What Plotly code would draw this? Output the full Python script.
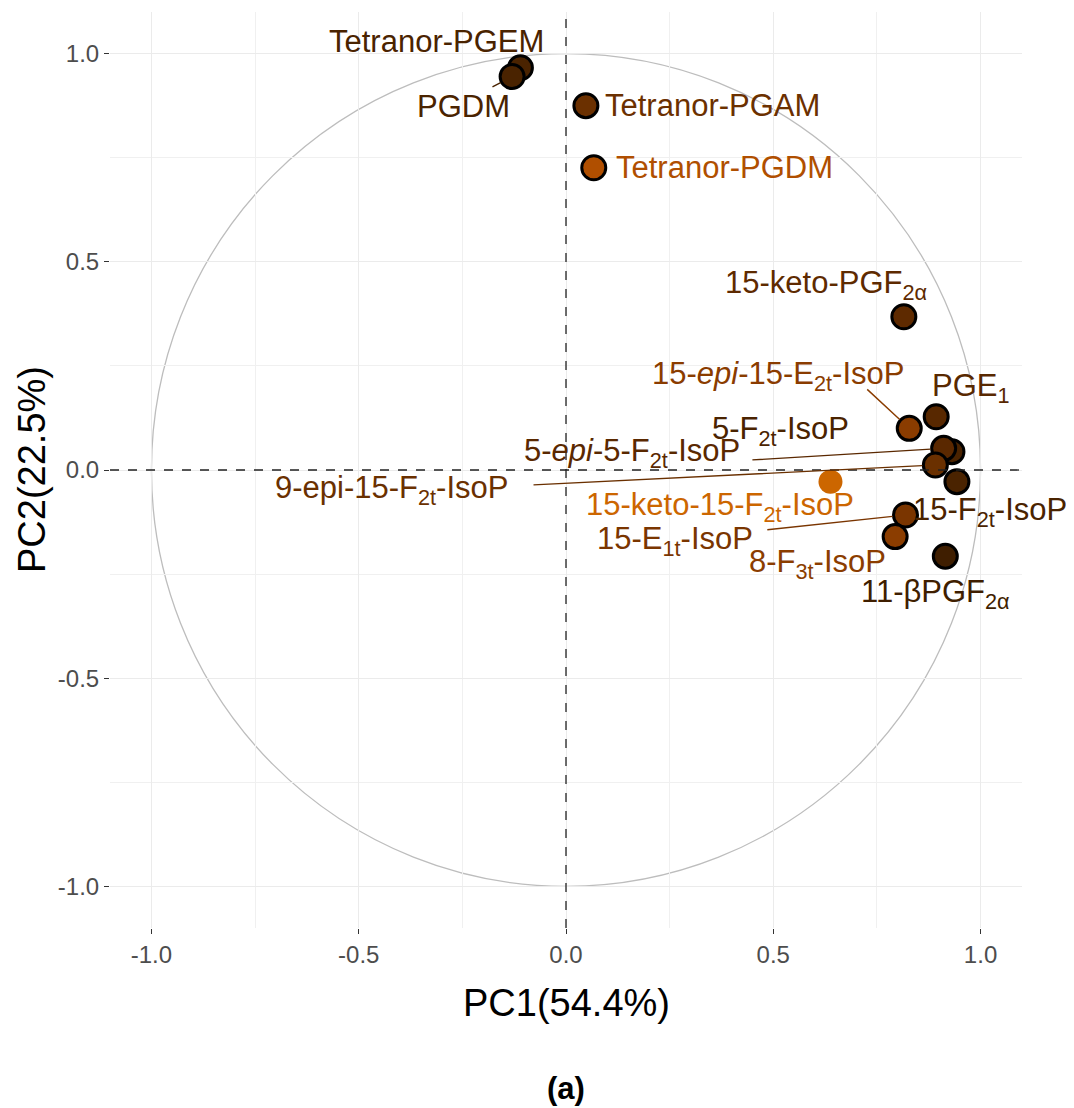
import plotly.graph_objects as go

# ---- data ----
names = ["Tetranor-PGEM", "PGDM", "Tetranor-PGAM", "Tetranor-PGDM",
         "15-keto-PGF<sub>2α</sub>", "PGE<sub>1</sub>",
         "15-<i>epi</i>-15-E<sub>2t</sub>-IsoP", "5-F<sub>2t</sub>-IsoP",
         "5-<i>epi</i>-5-F<sub>2t</sub>-IsoP", "9-epi-15-F<sub>2t</sub>-IsoP",
         "15-keto-15-F<sub>2t</sub>-IsoP", "15-F<sub>2t</sub>-IsoP",
         "15-E<sub>1t</sub>-IsoP", "8-F<sub>3t</sub>-IsoP", "11-βPGF<sub>2α</sub>"]
pc1 = [-0.110, -0.130, 0.048, 0.067, 0.815, 0.893, 0.828, 0.931, 0.911, 0.891,
       0.638, 0.943, 0.819, 0.794, 0.915]
pc2 = [0.966, 0.945, 0.875, 0.726, 0.368, 0.128, 0.100, 0.044, 0.052, 0.012,
       -0.028, -0.028, -0.108, -0.160, -0.207]
x_ticks = [-1.0, -0.5, 0.0, 0.5, 1.0]
y_ticks = [-1.0, -0.5, 0.0, 0.5, 1.0]
x_title = "PC1(54.4%)"
y_title = "PC2(22.5%)"
caption = "(a)"

# ---- styling (colours, label placement) ----
colors = ["#4a2300", "#4a2300", "#6b3000", "#b04f00", "#5e2a00", "#582800",
          "#8a3c00", "#4a2300", "#5a2800", "#6a3000", "#cc6600", "#4a2300",
          "#7a3500", "#8b3d00", "#3f1e00"]
outline = [True] * 10 + [False] + [True] * 4
label_x = [-0.313, -0.248, 0.354, 0.383, 0.627, 0.976, 0.512, 0.518, 0.159,
           -0.422, 0.371, 1.022, 0.263, 0.607, 0.892]
label_y = [1.029, 0.873, 0.875, 0.726, 0.445, 0.197, 0.226, 0.093, 0.040,
           -0.048, -0.089, -0.101, -0.171, -0.226, -0.298]
# segment start points (label side) for the labels that have a leader line
seg_idx = [1, 6, 8, 9, 12]
seg_x = [-0.181, 0.723, 0.446, -0.082, 0.482]
seg_y = [0.918, 0.197, 0.024, -0.036, -0.144]
circle_r = 1.0

FONT = "Liberation Sans, Arial, sans-serif"
LBL = 31

fig = go.Figure()

# correlation circle and reference lines
fig.add_shape(type="circle", xref="x", yref="y", x0=-circle_r, y0=-circle_r,
              x1=circle_r, y1=circle_r, line=dict(color="#bdbdbd", width=1.3),
              layer="below")
fig.add_shape(type="line", xref="paper", yref="y", x0=0, x1=1, y0=0, y1=0,
              line=dict(color="#222222", width=1.3, dash="dash"))
fig.add_shape(type="line", xref="x", yref="paper", x0=0, x1=0, y0=0, y1=1,
              line=dict(color="#222222", width=1.3, dash="dash"))

# leader segments
for k, i in enumerate(seg_idx):
    fig.add_annotation(x=pc1[i], y=pc2[i], ax=seg_x[k], ay=seg_y[k],
                       axref="x", ayref="y", xref="x", yref="y",
                       text="", showarrow=True, arrowhead=0,
                       arrowwidth=1.4, arrowcolor=colors[i], standoff=13)

# labels
for i, n in enumerate(names):
    fig.add_annotation(x=label_x[i], y=label_y[i], xref="x", yref="y",
                       text=n, showarrow=False,
                       font=dict(family=FONT, size=LBL, color=colors[i]),
                       xanchor="center", yanchor="middle")

# points
fig.add_trace(go.Scatter(
    x=pc1, y=pc2, mode="markers",
    marker=dict(size=24, color=colors,
                line=dict(color=["#000000" if o else c for o, c in zip(outline, colors)],
                          width=[3 if o else 0 for o in outline])),
    hoverinfo="text", text=names, showlegend=False))

axis_common = dict(range=[-1.1, 1.1], showline=False, zeroline=False,
                   automargin=False,
                   showgrid=True, gridcolor="#ebebeb", gridwidth=1.2,
                   ticks="outside", ticklen=5, tickcolor="#333333", tickwidth=1.2,
                   tickfont=dict(family=FONT, size=24, color="#4d4d4d"),
                   minor=dict(dtick=0.25, showgrid=True, gridcolor="#f0f0f0",
                              gridwidth=1, ticks=""))

fig.update_xaxes(**axis_common, tickvals=x_ticks,
                 ticktext=[f"{v:.1f}" for v in x_ticks])
fig.update_yaxes(**axis_common, tickvals=y_ticks,
                 ticktext=[f"{v:.1f}" for v in y_ticks])

fig.add_annotation(text=x_title, xref="paper", yref="paper", x=0.5, y=-0.0819,
                   showarrow=False, xanchor="center", yanchor="middle",
                   font=dict(family=FONT, size=38, color="#000"))
fig.add_annotation(text=y_title, xref="paper", yref="paper", x=-0.0855, y=0.5,
                   showarrow=False, xanchor="center", yanchor="middle",
                   textangle=-90,
                   font=dict(family=FONT, size=38, color="#000"))
fig.add_annotation(text="<b>" + caption + "</b>", xref="paper", yref="paper",
                   x=0.5, y=-0.175, showarrow=False, yanchor="middle",
                   font=dict(family=FONT, size=31, color="#000"))

# the page body adds an 8px margin, so the figure is sized to fit the window
fig.update_layout(width=1066, height=1100,
                  margin=dict(l=102, r=52, t=4, b=180),
                  plot_bgcolor="white", paper_bgcolor="white",
                  showlegend=False)

fig.write_html("out.html")
